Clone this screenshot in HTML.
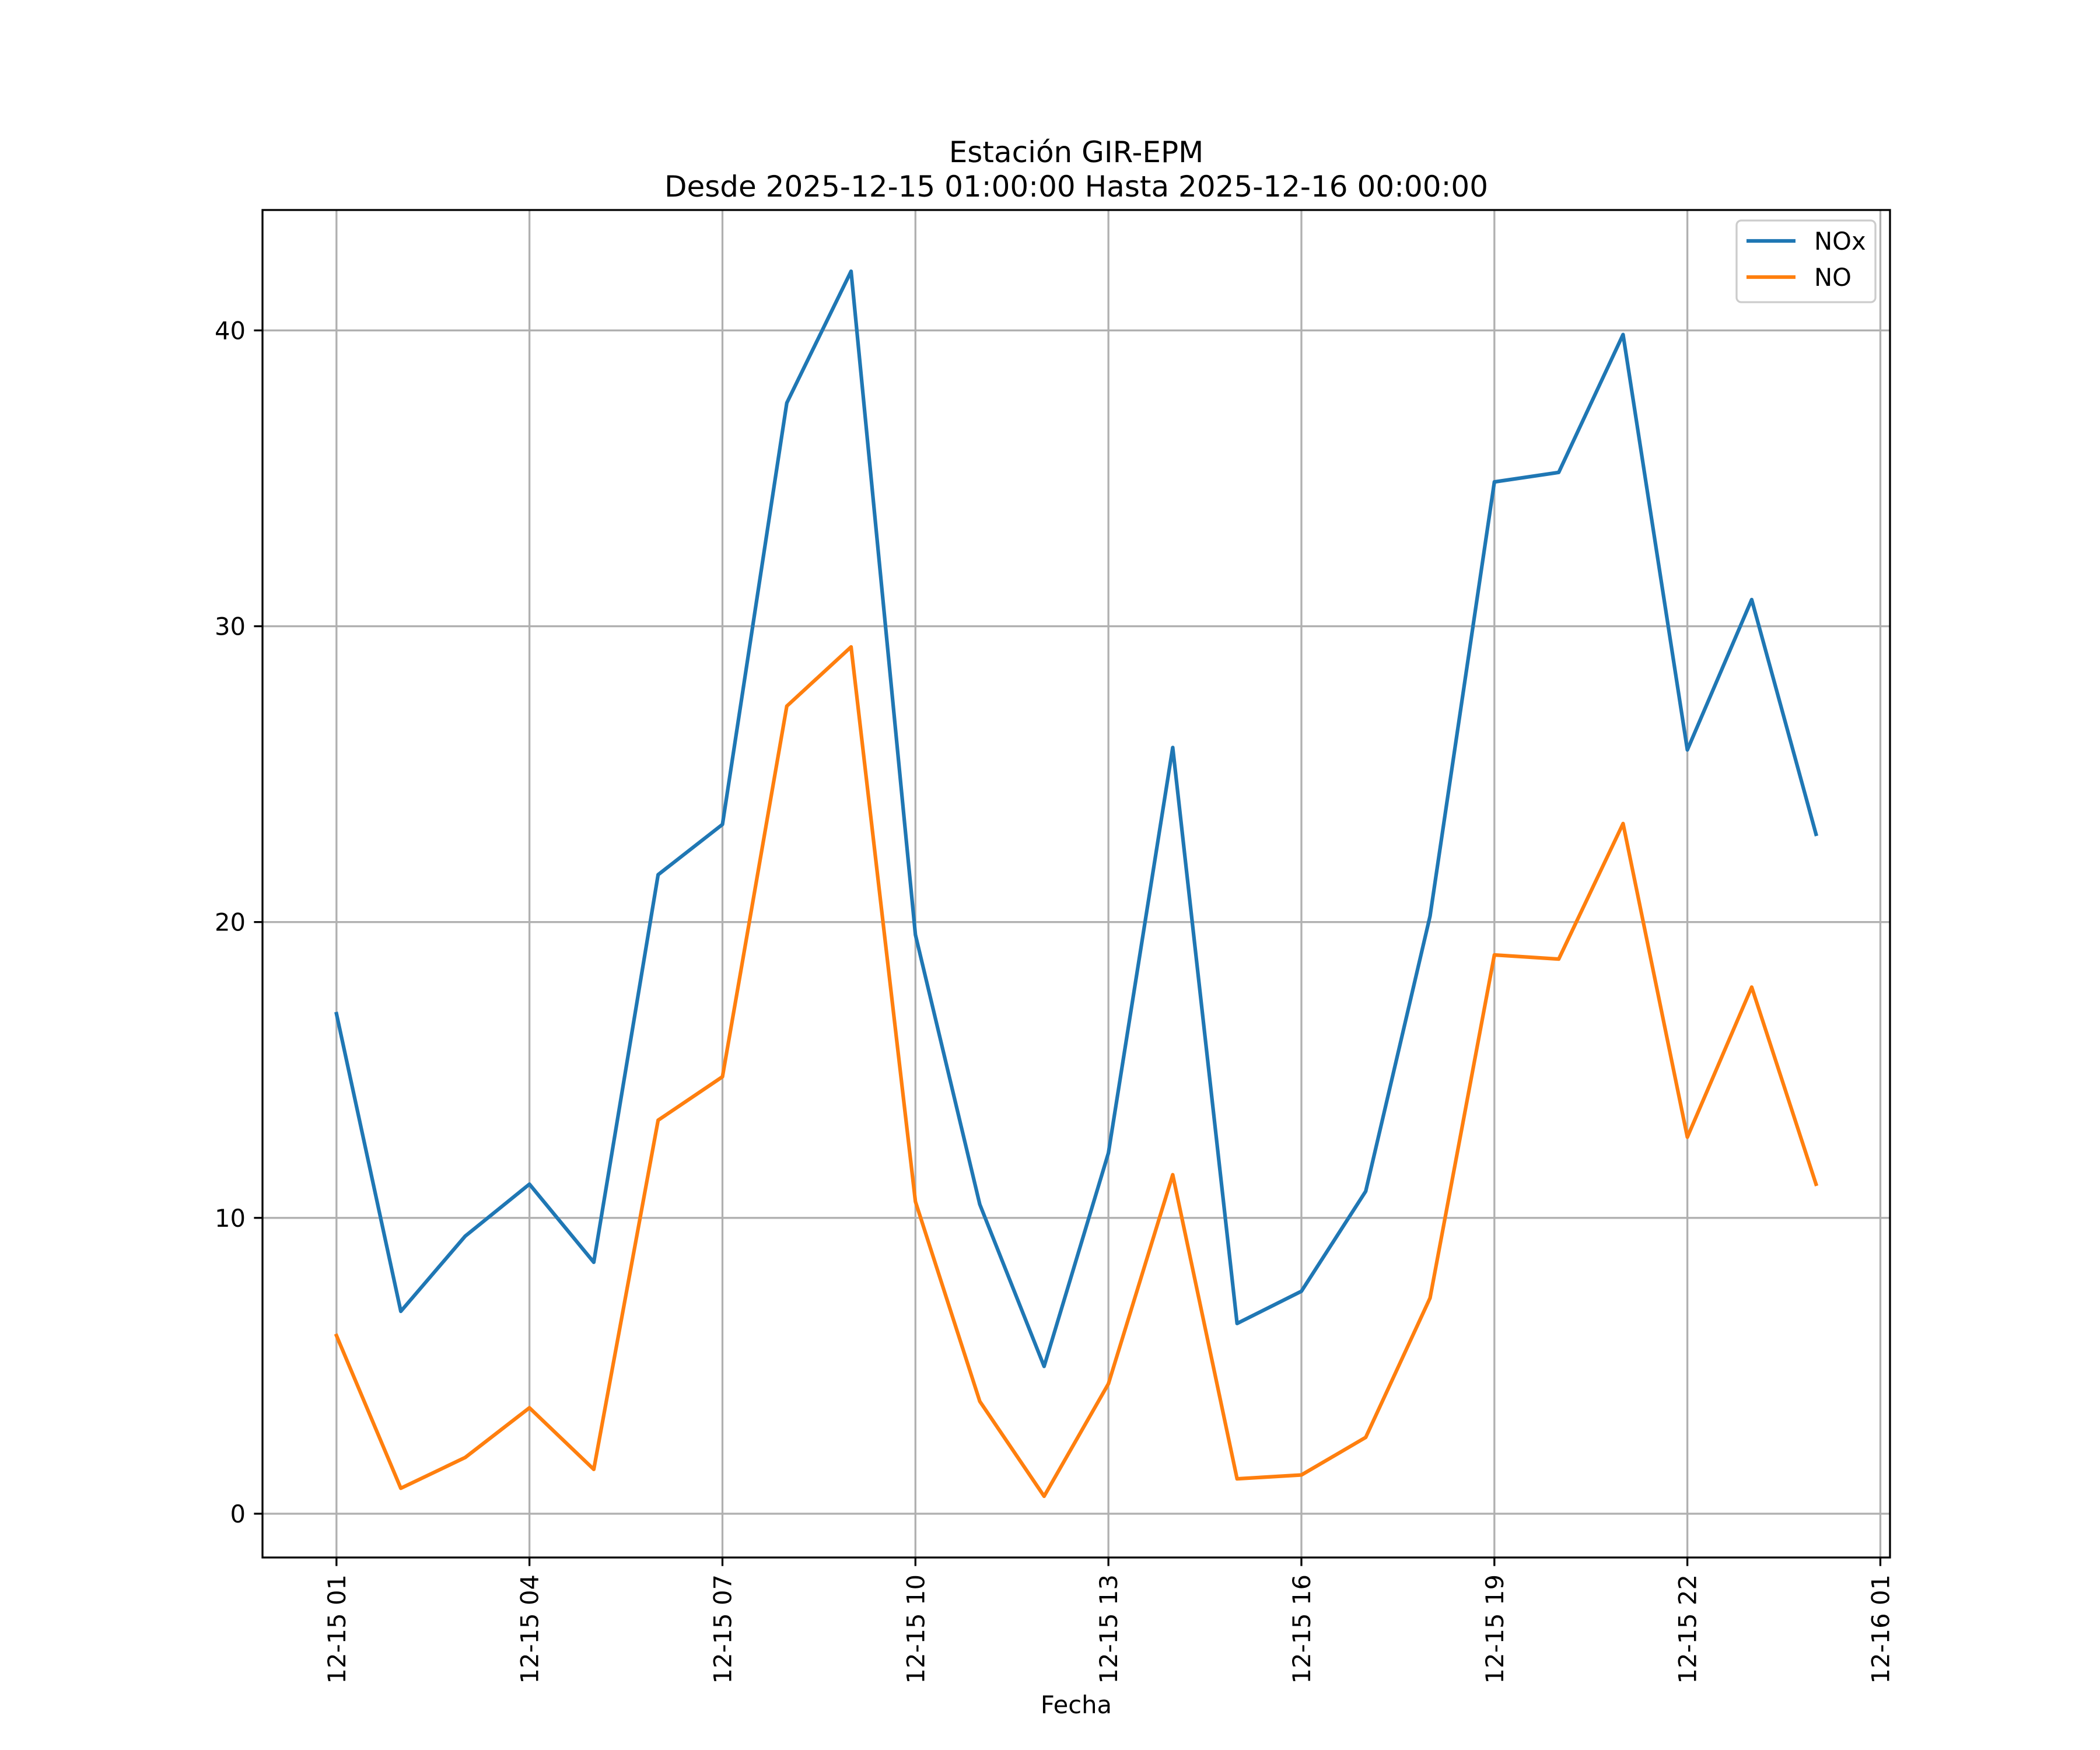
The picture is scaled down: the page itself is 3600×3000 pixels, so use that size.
<!DOCTYPE html>
<html><head><meta charset="utf-8"><style>
html,body{margin:0;padding:0;background:#fff;}
svg{display:block;font-family:"DejaVu Sans","Liberation Sans",sans-serif;}
</style></head><body>
<svg id="chart" width="3600" height="3000" viewBox="0 0 3600 3000" xmlns="http://www.w3.org/2000/svg">
<rect width="3600" height="3000" fill="#fff"/>
<text x="1845" y="278" font-size="50" text-anchor="middle">Estación GIR-EPM</text>
<text x="1845" y="337" font-size="50" text-anchor="middle">Desde 2025-12-15 01:00:00 Hasta 2025-12-16 00:00:00</text>
<g id="grid"></g>
<g id="series"></g>
<g id="ticks"></g>
<rect x="450" y="360" width="2790" height="2310" fill="none" stroke="#000" stroke-width="3.3"/>
<text x="1845" y="2937" font-size="41.7" text-anchor="middle">Fecha</text>
<g>
<rect x="2977" y="378" width="238" height="140" rx="8" fill="#fff" fill-opacity="0.8" stroke="#ccc" stroke-width="3.3"/>
<line x1="2994" y1="413" x2="3078" y2="413" stroke="#1f77b4" stroke-width="6.25"/>
<text x="3110" y="428" font-size="41.7">NOx</text>
<line x1="2994" y1="475" x2="3078" y2="475" stroke="#ff7f0e" stroke-width="6.25"/>
<text x="3110" y="490" font-size="41.7">NO</text>
</g>
</svg>
<script>
const hours = [1,2,3,4,5,6,7,8,9,10,11,12,13,14,15,16,17,18,19,20,21,22,23,24];
const noxValues = [16.9,6.84,9.38,11.14,8.5,21.6,23.3,37.55,42.0,19.57,10.46,4.98,12.19,25.9,6.43,7.52,10.9,20.2,34.88,35.2,39.86,25.82,30.9,22.97];
const noValues = [6.02,0.86,1.9,3.58,1.5,13.3,14.77,27.3,29.3,10.55,3.8,0.59,4.39,11.46,1.18,1.31,2.58,7.29,18.89,18.75,23.33,12.73,17.8,11.14];
const yTicks = [0,10,20,30,40];
const xTickHours = [1,4,7,10,13,16,19,22,25];
const xTickLabels = ["12-15 01","12-15 04","12-15 07","12-15 10","12-15 13","12-15 16","12-15 19","12-15 22","12-16 01"];

const NS="http://www.w3.org/2000/svg";
const L=450,R=3240,T=360,B=2670;
const all=noxValues.concat(noValues);
const dmin=Math.min(...all),dmax=Math.max(...all),dsp=dmax-dmin;
const ymin=dmin-0.05*dsp,ymax=dmax+0.05*dsp;
const hmin=Math.min(...hours),hmax=Math.max(...hours),hsp=hmax-hmin;
const xmin=hmin-0.05*hsp,xmax=hmax+0.05*hsp;
const sx=h=>L+(h-xmin)/(xmax-xmin)*(R-L);
const sy=v=>B-(v-ymin)/(ymax-ymin)*(B-T);
function mk(tag,attrs,parent){const e=document.createElementNS(NS,tag);for(const k in attrs)e.setAttribute(k,attrs[k]);parent.appendChild(e);return e;}
const grid=document.getElementById('grid'),ticks=document.getElementById('ticks'),series=document.getElementById('series');
yTicks.forEach(v=>{
  const y=sy(v);
  const g=mk('line',{x1:L,x2:R,y1:y,y2:y,stroke:'#b0b0b0','stroke-width':3.3},grid);
  
  
  mk('line',{x1:L-14.6,x2:L,y1:y,y2:y,stroke:'#000','stroke-width':3.3},ticks);
  const t=mk('text',{x:L-29,y:y+15,'font-size':41.7,'text-anchor':'end'},ticks);
  t.textContent=v;
  
  
});
xTickHours.forEach((h,i)=>{
  const x=sx(h);
  const g=mk('line',{x1:x,x2:x,y1:T,y2:B,stroke:'#b0b0b0','stroke-width':3.3},grid);
  
  
  mk('line',{x1:x,x2:x,y1:B,y2:B+14.6,stroke:'#000','stroke-width':3.3},ticks);
  const t=mk('text',{x:0,y:0,'font-size':41.7,'text-anchor':'end',transform:`translate(${x+15},${B+29}) rotate(-90)`},ticks);
  t.textContent=xTickLabels[i];
  
  
});
function line(vals,color,name){
  const pts=hours.map((h,i)=>sx(h).toFixed(1)+','+sy(vals[i]).toFixed(1)).join(' ');
  const p=mk('polyline',{points:pts,fill:'none',stroke:color,'stroke-width':6.25,'stroke-linejoin':'round','stroke-linecap':'square'},series);
  
  
}
line(noxValues,'#1f77b4','nox-line');
line(noValues,'#ff7f0e','no-line');
</script>
</body></html>
